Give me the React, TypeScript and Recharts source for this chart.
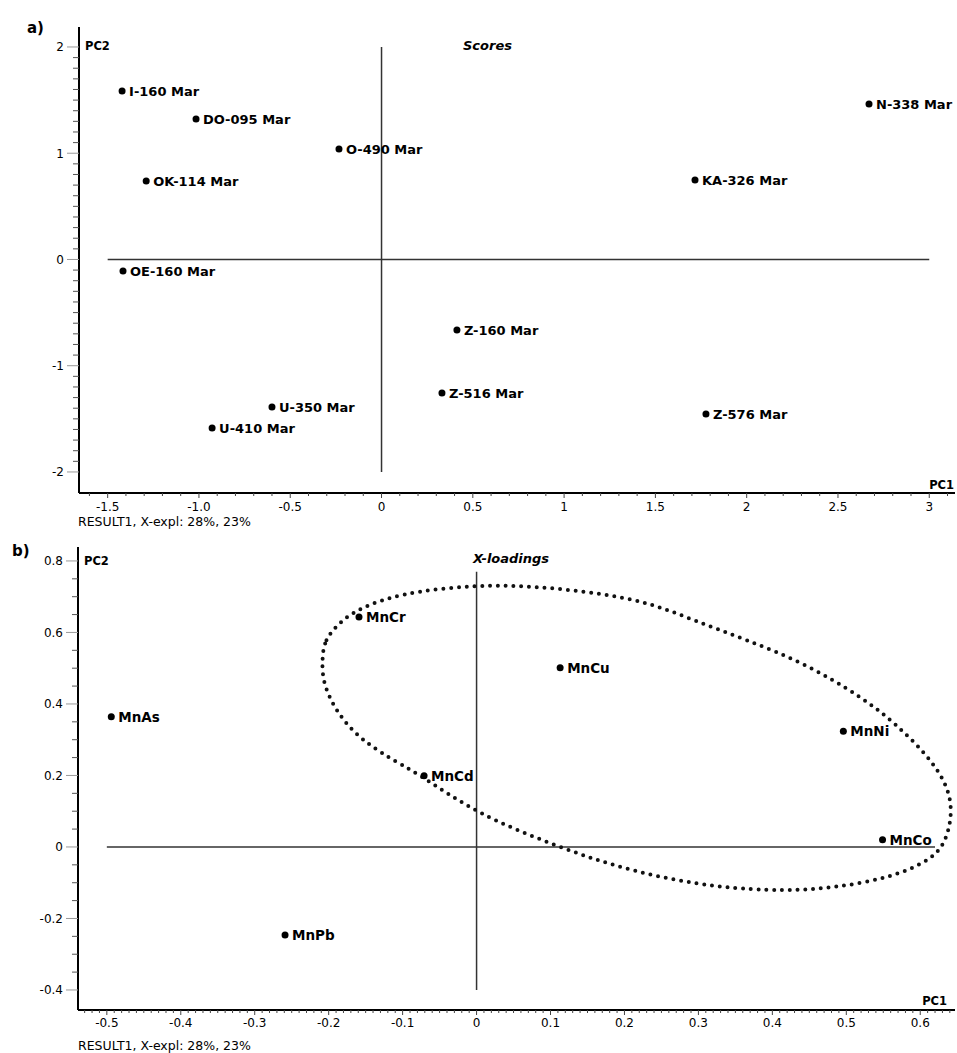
import React from 'react';
import { ScatterChart, Scatter, XAxis, YAxis, ReferenceLine } from 'recharts';

const FONT = '"DejaVu Sans", Verdana, sans-serif';

// a) scores
const scoreNames = ['I-160 Mar', 'DO-095 Mar', 'O-490 Mar', 'OK-114 Mar', 'N-338 Mar', 'KA-326 Mar', 'OE-160 Mar', 'Z-160 Mar', 'Z-516 Mar', 'U-350 Mar', 'U-410 Mar', 'Z-576 Mar'];
const scorePC1 = [-1.421, -1.016, -0.233, -1.289, 2.67, 1.717, -1.416, 0.413, 0.331, -0.6, -0.928, 1.777];
const scorePC2 = [1.586, 1.322, 1.04, 0.739, 1.464, 0.748, -0.108, -0.664, -1.256, -1.388, -1.586, -1.454];

const scoreXTicks = [-1.5, -1, -0.5, 0, 0.5, 1, 1.5, 2, 2.5, 3];
const scoreXLabels = ['-1.5', '-1.0', '-0.5', '0', '0.5', '1', '1.5', '2', '2.5', '3'];
const scoreYTicks = [-2, -1, 0, 1, 2];
const scoreYLabels = ['-2', '-1', '0', '1', '2'];

// b) x-loadings
const loadingNames = ['MnCr', 'MnCu', 'MnAs', 'MnCd', 'MnNi', 'MnCo', 'MnPb'];
const loadingPC1 = [-0.159, 0.113, -0.494, -0.071, 0.496, 0.549, -0.259];
const loadingPC2 = [0.643, 0.501, 0.364, 0.199, 0.324, 0.02, -0.246];

// dotted ellipse
const ellipsePC1 = [-0.209, -0.206, -0.185, -0.16, -0.104, -0.002, 0.076, 0.167, 0.235, 0.296, 0.365, 0.443, 0.52, 0.566, 0.62, 0.646, 0.637, 0.616, 0.559, 0.481, 0.417, 0.327, 0.21, 0.11, -0.002, -0.071, -0.131, -0.177, -0.208];
const ellipsePC2 = [0.523, 0.579, 0.629, 0.666, 0.71, 0.733, 0.73, 0.71, 0.683, 0.632, 0.579, 0.515, 0.42, 0.347, 0.235, 0.131, 0.02, -0.036, -0.087, -0.115, -0.123, -0.115, -0.07, 0.0, 0.095, 0.196, 0.263, 0.336, 0.448];

const loadXTicks = [-0.5, -0.4, -0.3, -0.2, -0.1, 0, 0.1, 0.2, 0.3, 0.4, 0.5, 0.6];
const loadXLabels = ['-0.5', '-0.4', '-0.3', '-0.2', '-0.1', '0', '0.1', '0.2', '0.3', '0.4', '0.5', '0.6'];
const loadYTicks = [-0.4, -0.2, 0, 0.2, 0.4, 0.6, 0.8];
const loadYLabels = ['-0.4', '-0.2', '0', '0.2', '0.4', '0.6', '0.8'];

// minor tick positions for the axes
function steps(from: number, to: number, step: number) {
  const out: number[] = [];
  const n = Math.round((to - from) / step);
  for (let i = 0; i <= n; i++) out.push(+(from + i * step).toFixed(4));
  return out;
}

function zip(names: string[], xs: number[], ys: number[]) {
  return xs.map((x, i) => ({ x, y: ys[i], name: names[i] }));
}

function findMajor(majors: number[], v: number) {
  return majors.findIndex((m) => Math.abs(m - v) < 1e-6);
}

function makeXTick(majors: number[], labels: string[], labelDy: number) {
  return (props: any) => {
    const { x, y, payload } = props;
    const i = findMajor(majors, payload.value);
    return (
      <g>
        <line x1={x} x2={x} y1={y} y2={y + (i >= 0 ? 5 : 3)} stroke="#444" strokeWidth={1} />
        {i >= 0 && (
          <text x={x} y={y + labelDy} textAnchor="middle" fontSize={12} fontFamily={FONT} fill="#000">
            {labels[i]}
          </text>
        )}
      </g>
    );
  };
}

function makeYTick(majors: number[], labels: string[]) {
  return (props: any) => {
    const { x, y, payload } = props;
    const i = findMajor(majors, payload.value);
    return (
      <g>
        <line x1={x - (i >= 0 ? 12 : 6)} x2={x} y1={y} y2={y} stroke={i >= 0 ? '#999' : '#555'} strokeWidth={1} />
        {i >= 0 && (
          <text x={x - 15} y={y} dy="0.36em" textAnchor="end" fontSize={12} fontFamily={FONT} fill="#000">
            {labels[i]}
          </text>
        )}
      </g>
    );
  };
}

function makePoint(fontSize: number) {
  return (props: any) => {
    const { cx, cy, payload } = props;
    return (
      <g>
        <circle cx={cx} cy={cy} r={3.5} fill="#000" />
        <text x={cx + 7} y={cy} dy="0.36em" fontSize={fontSize} fontWeight="bold" fontFamily={FONT} fill="#000">
          {payload.name}
        </text>
      </g>
    );
  };
}

function Txt({ left, right, top, size, bold, italic, children }: any) {
  return (
    <div
      style={{
        position: 'absolute',
        left,
        right,
        top,
        transform: 'translateY(-50%)',
        fontFamily: FONT,
        fontSize: size,
        lineHeight: 1,
        fontWeight: bold ? 'bold' : 'normal',
        fontStyle: italic ? 'italic' : 'normal',
        color: '#000',
        whiteSpace: 'nowrap',
      }}
    >
      {children}
    </div>
  );
}

function Panel(props: any) {
  const { top, height, yAxisWidth, xAxisHeight, xDomain, yDomain, xTicks, xLabels, xMinor, yTicks, yLabels, yMinor, points, labelSize, hLine, vLine, ellipse, labelDy } = props;
  return (
    <div style={{ position: 'absolute', left: 0, top, width: 957, height }}>
      <ScatterChart width={957} height={height} margin={{ top: 27, right: 2, left: 0, bottom: 7 }}>
        <XAxis
          type="number"
          dataKey="x"
          domain={xDomain}
          ticks={xMinor}
          interval={0}
          height={xAxisHeight}
          tickSize={0}
          tickMargin={0}
          tickLine={false}
          axisLine={{ stroke: '#000', strokeWidth: 2 }}
          tick={makeXTick(xTicks, xLabels, labelDy)}
        />
        <YAxis
          type="number"
          dataKey="y"
          domain={yDomain}
          ticks={yMinor}
          interval={0}
          width={yAxisWidth}
          tickSize={0}
          tickMargin={0}
          tickLine={false}
          axisLine={{ stroke: '#000', strokeWidth: 2 }}
          tick={makeYTick(yTicks, yLabels)}
        />
        <ReferenceLine segment={hLine} stroke="#333" strokeWidth={1.5} />
        <ReferenceLine segment={vLine} stroke="#333" strokeWidth={1.5} />
        {ellipse && (
          <Scatter
            data={ellipse}
            line={{ stroke: '#111', strokeWidth: 4, strokeDasharray: '0 7.8', strokeLinecap: 'round' }}
            lineJointType="basisClosed"
            shape={() => <g />}
            isAnimationActive={false}
          />
        )}
        <Scatter data={points} shape={makePoint(labelSize)} isAnimationActive={false} />
      </ScatterChart>
    </div>
  );
}

export default function App() {
  const scores = zip(scoreNames, scorePC1, scorePC2);
  const loadings = zip(loadingNames, loadingPC1, loadingPC2);
  const ellipse = ellipsePC1.map((x, i) => ({ x, y: ellipsePC2[i] }));

  return (
    <div style={{ position: 'absolute', left: 0, top: 0, width: 957, height: 1053, background: '#fff', overflow: 'hidden' }}>
      <Panel
        top={0}
        height={530}
        yAxisWidth={79}
        xAxisHeight={30}
        xDomain={[-1.657, 3.141]}
        yDomain={[-2.198, 2.188]}
        xTicks={scoreXTicks}
        xLabels={scoreXLabels}
        xMinor={steps(-1.6, 3.1, 0.1)}
        yTicks={scoreYTicks}
        yLabels={scoreYLabels}
        yMinor={steps(-2, 2, 0.1)}
        points={scores}
        labelSize={13}
        labelDy={18}
        hLine={[{ x: -1.5, y: 0 }, { x: 3, y: 0 }]}
        vLine={[{ x: 0, y: -2 }, { x: 0, y: 2 }]}
      />
      <Panel
        top={520}
        height={533}
        yAxisWidth={78}
        xAxisHeight={36}
        xDomain={[-0.539, 0.647]}
        yDomain={[-0.456, 0.839]}
        xTicks={loadXTicks}
        xLabels={loadXLabels}
        xMinor={steps(-0.53, 0.64, 0.01)}
        yTicks={loadYTicks}
        yLabels={loadYLabels}
        yMinor={steps(-0.4, 0.8, 0.05)}
        points={loadings}
        labelSize={13.5}
        labelDy={17}
        hLine={[{ x: -0.5, y: 0 }, { x: 0.62, y: 0 }]}
        vLine={[{ x: 0, y: -0.4 }, { x: 0, y: 0.77 }]}
        ellipse={ellipse}
      />

      <Txt left={27} top={28} size={15} bold>a)</Txt>
      <Txt left={85} top={47} size={11.5} bold>PC2</Txt>
      <Txt left={463} top={45} size={13} bold italic>Scores</Txt>
      <Txt right={3} top={486} size={11.5} bold>PC1</Txt>
      <Txt left={78} top={522} size={12.5}>RESULT1, X-expl: 28%, 23%</Txt>

      <Txt left={12} top={551} size={15} bold>b)</Txt>
      <Txt left={84} top={562} size={11.5} bold>PC2</Txt>
      <Txt left={473} top={558} size={13} bold italic>X-loadings</Txt>
      <Txt right={10} top={1002} size={11.5} bold>PC1</Txt>
      <Txt left={78} top={1046} size={12.5}>RESULT1, X-expl: 28%, 23%</Txt>
    </div>
  );
}
